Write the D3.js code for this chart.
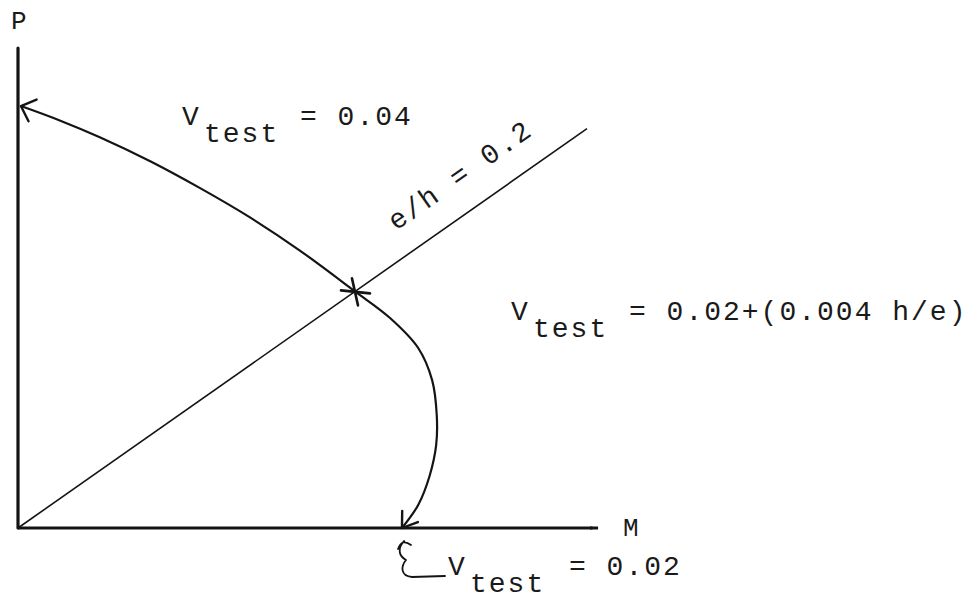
<!DOCTYPE html>
<html>
<head>
<meta charset="utf-8">
<script src="https://cdn.jsdelivr.net/npm/d3@7/dist/d3.min.js"></script>
<style>
  html, body { margin: 0; padding: 0; background: #fff; }
  svg { display: block; }
  text { font-family: "Liberation Mono", "DejaVu Sans Mono", monospace; fill: #1a1a1a; }
</style>
</head>
<body>
<svg id="chart" width="980" height="599"></svg>
<script>
// Interaction path in (M, P) units: from the pure-axial end, through the
// e/h = 0.2 crossing, out to the pure-bending end on the M axis.
const curveM = [0.5, 7.2, 14.1, 22.8, 31.4, 40.0, 48.6, 58.1, 64.1, 69.0, 71.4, 72.2, 72.1, 71.0, 69.0, 66.2];
const curveP = [87.9, 84.9, 81.4, 76.4, 70.8, 64.7, 57.8, 49.3, 43.8, 37.5, 30.8, 23.5, 17.3, 11.0, 4.8, 0.0];

// Constant-eccentricity ray e/h = 0.2
const rayM = [0, 98.1];
const rayP = [0, 83.2];

// Crossing of the ray and the path
const crossM = [58.1];
const crossP = [49.3];

// Axis extents
const axisMmax = 100;
const axisPmax = 100;

// Text
const axisNames = ["P", "M"];
const labelTop = ["V", "test", "= 0.04"];
const labelMid = ["V", "test", "= 0.02+(0.004 h/e)"];
const labelBot = ["V", "test", "= 0.02"];
const rayLabel = "e/h = 0.2";

const svg = d3.select("#chart");
const x = d3.scaleLinear().domain([0, axisMmax]).range([18, 598]);
const y = d3.scaleLinear().domain([0, axisPmax]).range([528, 48]);
const ink = "#141414";

// Axes
svg.append("line")
  .attr("x1", x(0)).attr("y1", y(0)).attr("x2", x(0)).attr("y2", y(axisPmax))
  .attr("stroke", ink).attr("stroke-width", 3.2).attr("stroke-linecap", "round");
svg.append("line")
  .attr("x1", x(0)).attr("y1", y(0)).attr("x2", x(axisMmax)).attr("y2", y(0))
  .attr("stroke", ink).attr("stroke-width", 3.2);
// tapered end of the M axis
svg.append("path")
  .attr("d", `M${x(axisMmax) - 8},${y(0) - 1.8} L${x(axisMmax) + 1},${y(0)} L${x(axisMmax) - 8},${y(0) + 1.8}Z`)
  .attr("fill", ink);

svg.append("text").attr("x", 11).attr("y", 29)
  .attr("font-size", 26).text(axisNames[0]);
svg.append("text").attr("x", 623).attr("y", 536)
  .attr("font-size", 26).text(axisNames[1]);

// e/h ray
svg.append("line")
  .attr("x1", x(rayM[0])).attr("y1", y(rayP[0]))
  .attr("x2", x(rayM[1])).attr("y2", y(rayP[1]))
  .attr("stroke", ink).attr("stroke-width", 1.6);

const ang = Math.atan2(y(rayP[1]) - y(rayP[0]), x(rayM[1]) - x(rayM[0])) * 180 / Math.PI;
svg.append("text")
  .attr("transform", `translate(396,231) rotate(${ang})`)
  .attr("font-size", 28).attr("letter-spacing", 2)
  .text(rayLabel);

// Interaction path
const pts = curveM.map((m, i) => [m, curveP[i]]);
const line = d3.line().x(d => x(d[0])).y(d => y(d[1])).curve(d3.curveCatmullRom.alpha(0.5));
svg.append("path")
  .attr("d", line(pts))
  .attr("fill", "none").attr("stroke", ink).attr("stroke-width", 2.2);

// Open arrowheads at both ends of the path
function arrowHead(tip, from, len, spread) {
  const tx = x(tip[0]), ty = y(tip[1]);
  const a = Math.atan2(y(from[1]) - ty, x(from[0]) - tx);
  const p1 = [tx + len * Math.cos(a + spread), ty + len * Math.sin(a + spread)];
  const p2 = [tx + len * Math.cos(a - spread), ty + len * Math.sin(a - spread)];
  svg.append("path")
    .attr("d", `M${p1[0]},${p1[1]} L${tx},${ty} L${p2[0]},${p2[1]}`)
    .attr("fill", "none").attr("stroke", ink).attr("stroke-width", 2.4)
    .attr("stroke-linecap", "round").attr("stroke-linejoin", "round");
}
const n = pts.length;
arrowHead(pts[0], pts[1], 17, 0.75);
arrowHead(pts[n - 1], pts[n - 2], 17, 0.6);

// Mark at the crossing
const cx = x(crossM[0]), cy = y(crossP[0]);
svg.append("path")
  .attr("d", `M${cx - 3},${cy - 13} L${cx + 3},${cy + 14} M${cx - 14},${cy - 1} L${cx + 15},${cy + 2}`)
  .attr("fill", "none").attr("stroke", ink).attr("stroke-width", 2.6).attr("stroke-linecap", "round");

// Labels: V with subscript, then the value
function vLabel(parts, vx, base, restX) {
  const fs = 28, ls = 2;
  svg.append("text").attr("x", vx).attr("y", base)
    .attr("font-size", fs).attr("letter-spacing", ls).text(parts[0]);
  svg.append("text").attr("x", vx + 22).attr("y", base + 17)
    .attr("font-size", fs).attr("letter-spacing", ls).text(parts[1]);
  svg.append("text").attr("x", restX).attr("y", base)
    .attr("font-size", fs).attr("letter-spacing", ls).text(parts[2]);
}
vLabel(labelTop, 182, 125, 300);
vLabel(labelMid, 511, 320, 629);
vLabel(labelBot, 448, 575, 569);

// Curled leader from the bottom label to the path end
svg.append("path")
  .attr("d", "M398,549 Q402,538 411,545 M404,541 C397,549 399,556 406,560 C401,566 400,576 412,577 L445,576")
  .attr("fill", "none").attr("stroke", ink).attr("stroke-width", 1.8)
  .attr("stroke-linecap", "round").attr("stroke-linejoin", "round");
</script>
</body>
</html>
